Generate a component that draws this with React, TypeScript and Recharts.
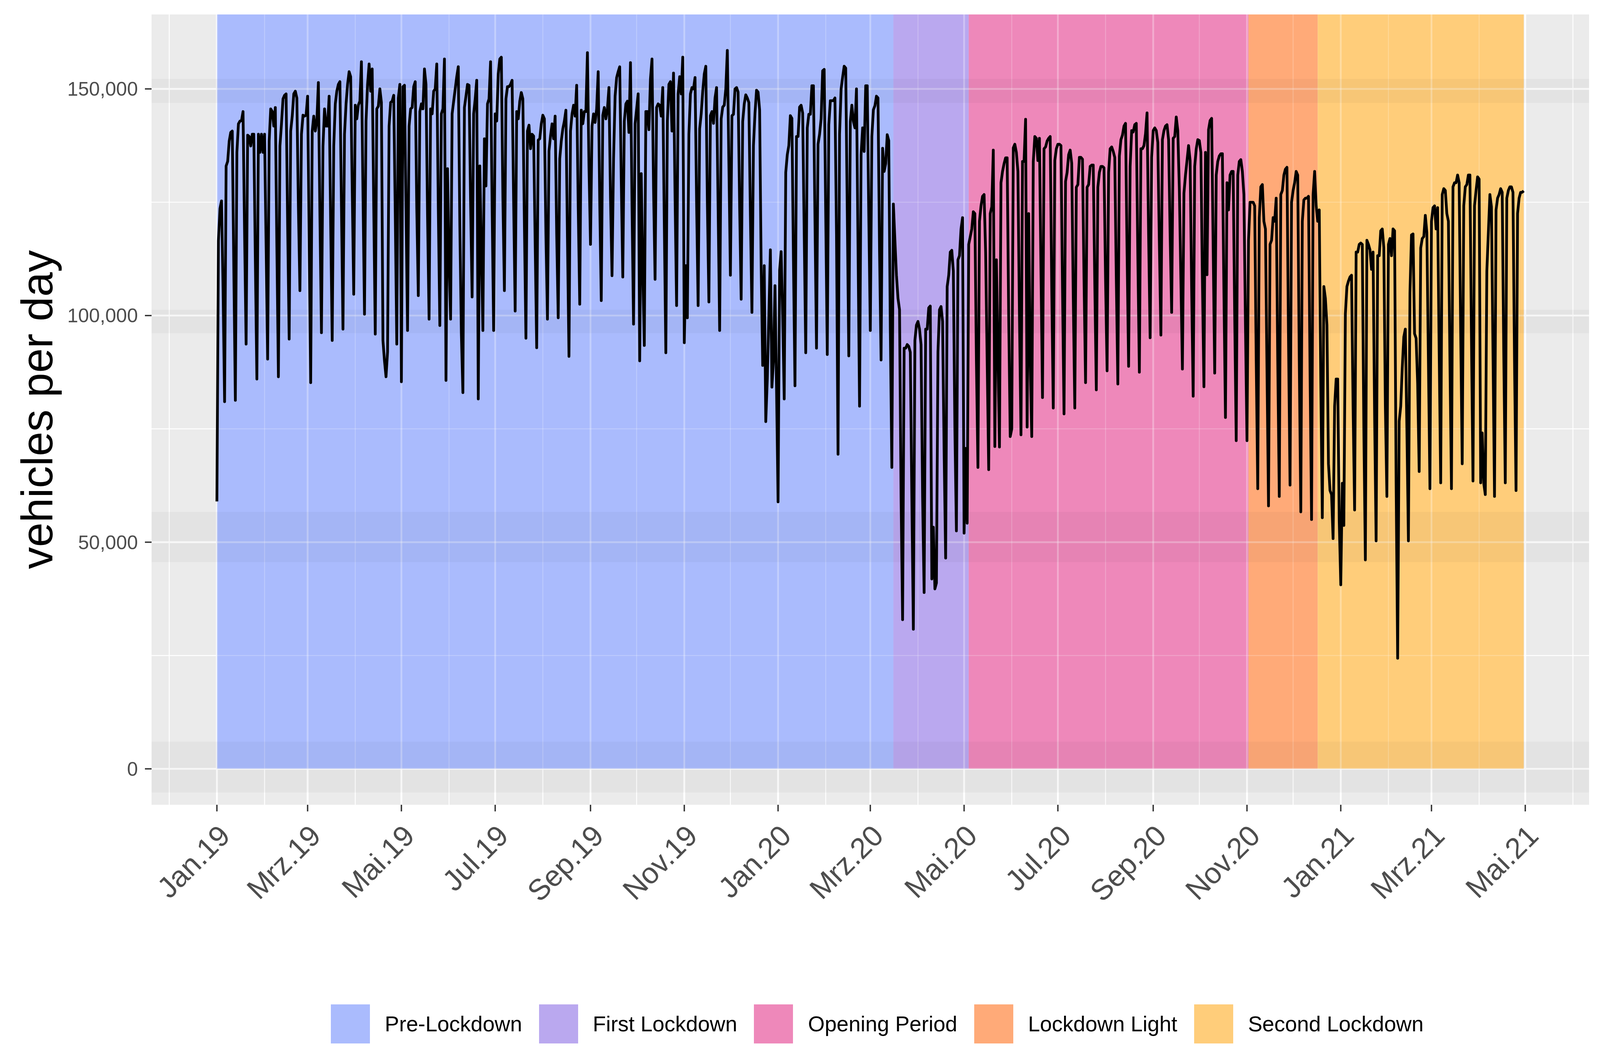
import React from "react";
import { LineChart, Line, XAxis, YAxis, CartesianGrid, ReferenceArea, ReferenceLine } from "recharts";

// daily counts in thousands of vehicles, one array per month (day 0 = 1 Jan 2019)
const jan19 = [59, 116.5, 123.6, 125.3, 106, 81, 133, 134, 138.5, 140.4, 140.7, 110, 81.3, 136, 142.3, 142.9, 143, 145, 118, 93.7, 139.8, 139.5, 137.4, 140, 140, 112, 86, 140, 136, 140, 136];
const feb19 = [140, 115, 90.4, 138.5, 145.6, 145, 141.8, 145.9, 115, 86.5, 137.4, 142.3, 147.8, 148.6, 148.9, 120, 94.8, 140.7, 144, 148.9, 149.5, 148, 124, 105.5, 140, 144.2, 144, 144.2];
const mar19 = [148.4, 117, 85.2, 140.7, 144, 140.7, 142.9, 151.4, 122, 96.2, 137.4, 145.6, 141.8, 141.8, 148.4, 120, 94.5, 137.4, 146.7, 149.5, 151, 151.6, 124, 97, 140, 146.7, 151, 153.8, 152.7, 128, 104.7];
const apr19 = [146.4, 143.4, 146.4, 147.3, 156, 127, 100.3, 142.9, 151, 155.5, 149.5, 154.4, 124, 95.9, 145.6, 146.2, 150, 147, 94.5, 90, 86.5, 92, 141.8, 147, 147.3, 148.6, 122.5, 93.7, 148, 151];
const may19 = [85.4, 150.5, 150.8, 123.6, 96.7, 141.8, 145.6, 145.9, 150.5, 151.6, 123.6, 104.4, 145, 146.7, 145.6, 154.4, 151, 122, 99.2, 145.6, 144.5, 149.5, 150, 155.5, 123.6, 97.8, 144.5, 145.6, 156.6, 85.7, 132.4];
const jun19 = [112, 99.2, 144.5, 147.3, 150, 152.7, 154.9, 120, 96, 83, 145.9, 148.4, 151, 150.8, 125, 104.1, 144.5, 147.8, 151.9, 81.6, 133, 115, 96.7, 139, 128.6, 146.7, 147.8, 156, 124, 96.7];
const jul19 = [144.5, 142.9, 153.3, 156.6, 157, 126, 105.5, 147.8, 150.5, 150.5, 151, 151.9, 125, 101, 145, 143.4, 147.3, 149.2, 147.8, 120, 95, 140.7, 142, 136.8, 140, 139.6, 116, 92.9, 138.7, 139, 142.3];
const aug19 = [144.2, 143.4, 118, 99.2, 136.3, 139.6, 142.3, 139, 144, 118, 99.5, 134.6, 138.5, 141.2, 142.9, 145.3, 117, 91, 140.7, 144.5, 146.4, 144, 150.8, 124, 102.5, 145.3, 142.3, 145, 145, 158, 133];
const sep19 = [115.7, 141.8, 144.5, 142.6, 145.6, 153.8, 125, 103.3, 144.2, 145.9, 143.4, 145.6, 150.3, 126, 108.8, 134.6, 148.4, 152.5, 153.8, 154.9, 130, 108.5, 142.9, 146.7, 147.3, 140.4, 155.8, 124, 98.1, 142.3];
const oct19 = [145.6, 148.9, 90, 131.3, 110, 93.4, 145, 145, 141, 152.2, 156.6, 128, 108, 145.9, 146.7, 146.4, 144, 150.3, 120, 91.8, 142.9, 151, 151.6, 140.7, 153.5, 126, 102.2, 148.9, 152.7, 148.9, 157];
const nov19 = [94, 111, 99.5, 140, 148.9, 150.3, 150, 152.5, 125, 102.2, 141.2, 144.5, 149.5, 153.3, 155, 125, 103, 144.1, 145, 142.4, 148, 150.3, 123.7, 96.7, 143.4, 146, 146.4, 150, 158.5, 133.6];
const dec19 = [108.9, 144.1, 144.4, 150, 150.3, 149.3, 124, 103.6, 142.8, 146.7, 148.7, 148, 147, 122, 100.7, 137.5, 144.7, 149.7, 149.3, 145.4, 111, 89, 111, 76.6, 86, 100, 114.5, 84.2, 90, 106.6, 84];
const jan20 = [58.9, 110, 114.1, 100, 81.6, 131.6, 135.5, 137.5, 144.1, 143.5, 112, 84.5, 139.5, 139.5, 146, 146.4, 144.7, 118, 91.8, 141.4, 144.4, 144.4, 150.7, 150.7, 121, 92.8, 137.8, 140, 143.4, 154, 154.3];
const feb20 = [122, 91.4, 142.1, 147.4, 147.4, 147.4, 148, 118, 69.4, 140, 150, 152.6, 155, 154.6, 123, 91.1, 142.8, 146.4, 142.8, 141.4, 150, 115, 80, 135.5, 141.4, 136.2, 150.7, 150.7, 122];
const mar20 = [96.7, 139.5, 145.4, 146.3, 148.4, 148, 114, 90.2, 136.9, 131.8, 133.5, 139.9, 138.6, 97, 66.5, 124.6, 116.6, 108.9, 103.8, 101.3, 60, 32.9, 92.8, 92.8, 93.6, 93.2, 91.9, 60, 30.8, 94.5, 97.9];
const apr20 = [98.7, 97, 93.6, 60, 38.9, 97, 97, 101.7, 102.1, 41.9, 53.3, 39.7, 41, 92, 101.3, 102, 98.7, 70, 46.5, 106.4, 108.9, 114, 114.4, 109.8, 75, 52.5, 112.3, 113.2, 119.1, 121.6];
const may20 = [52, 70.7, 54.2, 115.7, 117.4, 119.1, 122.9, 122.5, 90, 66.5, 120.8, 124.2, 126.3, 126.7, 114, 90, 66, 122.5, 124, 136.5, 71.1, 112.3, 92, 71, 129.3, 131.8, 133.5, 134.8, 134.8, 100, 73.3];
const jun20 = [75, 137, 137.8, 136, 131.8, 100, 73.7, 134, 134, 143.3, 75.4, 122.5, 90, 73.3, 134, 139.5, 139.1, 134.2, 139.1, 110, 81.9, 136.8, 137.2, 138.5, 139.1, 139.5, 106, 79.6, 134.2, 136.8];
const jul20 = [137.8, 137.8, 137.5, 106, 78.3, 129.6, 131.6, 135.5, 136.5, 133.6, 104, 79.6, 128.3, 128.9, 134.9, 134.9, 134.5, 108, 85.2, 128.3, 128.9, 132.9, 133.2, 133.2, 107, 83.6, 128.3, 131.6, 132.9, 132.9, 132.6];
const aug20 = [108, 87.8, 131.6, 136.8, 137.2, 136.2, 134.9, 108, 84.9, 135.2, 138.8, 139.8, 141.8, 142.4, 114, 88.8, 132.9, 140.8, 140.5, 142.1, 142.4, 113, 87.5, 136.8, 136.8, 137.5, 140.1, 144.7, 118, 95.1, 134.9];
const sep20 = [140.8, 141.4, 140.8, 138.2, 116, 95.7, 138.8, 140.8, 141.8, 142.1, 138.8, 118, 100.7, 139.1, 139.5, 143.8, 140.8, 128, 108, 88.2, 127, 131, 134.2, 137.5, 134.2, 106, 82.2, 132.9, 136.8, 138.8];
const oct20 = [138.6, 136, 108, 84.3, 136, 109, 141, 143, 143.5, 115, 87.3, 131, 134, 135.2, 135.7, 135.7, 105, 77.5, 129.3, 123.3, 131, 131.8, 131.8, 100, 72.4, 131, 134, 134.4, 131.8, 126.7, 98];
const nov20 = [72.4, 116.6, 125, 125, 125, 124.2, 90, 61.8, 121.6, 128.4, 128.9, 120.8, 119.1, 88, 58, 115.7, 116.6, 121.6, 120.8, 125.9, 90, 60.1, 126.7, 127.6, 131, 132.3, 132.7, 95, 62.6, 125];
const dec20 = [127.6, 129.3, 131.8, 131, 90, 56.7, 120.8, 125.5, 125.9, 125.9, 126.3, 88, 55, 126.7, 131.8, 124.2, 120.8, 123.3, 85, 55.4, 106.4, 103.8, 97.9, 67.3, 61.4, 60.5, 50.8, 80, 86, 86, 54.6];
const jan21 = [40.6, 63, 53.7, 100.4, 106.4, 107.6, 108.5, 108.9, 80, 57.1, 114, 114, 115.7, 116, 115.7, 75, 46.1, 116.6, 115.7, 114.5, 110.2, 114, 78, 50.3, 113.2, 113.2, 118.7, 119.1, 115, 80, 60.1];
const feb21 = [115.7, 117, 113.2, 119.1, 118.7, 63, 24.4, 76.7, 80, 88.5, 95.3, 97, 75, 50.3, 105, 117.8, 118, 96, 95, 85, 65.6, 114.9, 117, 117.4, 122.1, 118.3, 90, 61.8];
const mar21 = [120.8, 123.8, 124.2, 119.1, 123.8, 92, 63.1, 126.7, 128, 127.6, 122.5, 120.8, 90, 61.8, 128.4, 129.3, 129.3, 131, 129.3, 96, 67.3, 124.2, 128.4, 128.9, 131, 131, 95, 63.5, 124.2, 127.6, 130.6];
const apr21 = [130.1, 63.1, 74.1, 63, 60.5, 109.8, 118.3, 126.7, 124, 92, 60.1, 123.3, 125.9, 126.7, 128, 127.2, 92, 63.1, 125.9, 127.6, 128.4, 128.4, 127.2, 90, 61.4, 122.5, 125.9, 127.2, 127.2, 127.5];

const months = [jan19, feb19, mar19, apr19, may19, jun19, jul19, aug19, sep19, oct19, nov19, dec19,
  jan20, feb20, mar20, apr20, may20, jun20, jul20, aug20, sep20, oct20, nov20, dec20,
  jan21, feb21, mar21, apr21];

const data = months.flat().map((v, i) => ({ day: i, vehicles: Math.round(v * 1000) }));

// x axis: days since 1 Jan 2019 of month starts
const majorTickDays = [0, 59, 120, 181, 243, 304, 365, 425, 486, 547, 609, 670, 731, 790, 851];
const majorTickLabels = ["Jan.19", "Mrz.19", "Mai.19", "Jul.19", "Sep.19", "Nov.19", "Jan.20", "Mrz.20", "Mai.20", "Jul.20", "Sep.20", "Nov.20", "Jan.21", "Mrz.21", "Mai.21"];
const minorTickDays = [-31, 31, 90, 151, 212, 273, 334, 396, 456, 517, 578, 639, 700, 762, 821, 882];
const yMajorTicks = [0, 50000, 100000, 150000];
const yMinorTicks = [25000, 75000, 125000];

// lockdown periods (day index)
const periodNames = ["Pre-Lockdown", "First Lockdown", "Opening Period", "Lockdown Light", "Second Lockdown"];
const periodStart = [0, 440, 489, 671, 716];
const periodEnd = [440, 489, 671, 716, 850];
const periodFill = ["#AABBFD", "#BAA8EF", "#EE88BA", "#FFAA78", "#FFCD7A"];

const X_DOMAIN: [number, number] = [-42.5, 892.5];
const Y_DOMAIN: [number, number] = [-7925, 166425];
const FONT = '"Liberation Sans", Arial, Helvetica, sans-serif';

// faint horizontal banding seen in the source image
const bands: [number, number][] = [[146900, 152200], [96100, 101300], [45600, 56700], [-5200, 6000]];

const XTick = (props: any) => {
  const { x, y, payload } = props;
  const i = majorTickDays.indexOf(payload.value);
  const tx = x + 38;
  const ty = y + 67;
  return (
    <text x={tx} y={ty} textAnchor="end" transform={`rotate(-45 ${tx} ${ty})`}
      fontSize={75} fill="#4D4D4D" fontFamily={FONT}>
      {majorTickLabels[i]}
    </text>
  );
};

const YTitle = (props: any) => {
  const vb = props.viewBox || { x: 0, y: 37, width: 388, height: 2023 };
  const cx = vb.x + 95;
  const cy = vb.y + vb.height / 2;
  return (
    <text x={cx} y={cy} transform={`rotate(-90 ${cx} ${cy})`} textAnchor="middle"
      dominantBaseline="central" fontSize={113} fill="#000" fontFamily={FONT}>
      vehicles per day
    </text>
  );
};

export default function App() {
  return (
    <div style={{ position: "absolute", left: 0, top: 0, width: 4110, height: 2698, background: "#fff", fontFamily: FONT }}>
      <LineChart width={4110} height={2698} data={data} margin={{ top: 37, right: 42, left: 0, bottom: 0 }}>
        <CartesianGrid fill="#EBEBEB" horizontal={false} vertical={false} stroke="none" />
        <XAxis dataKey="day" type="number" domain={X_DOMAIN} allowDataOverflow ticks={majorTickDays}
          interval={0} height={638} axisLine={false} tickSize={17} tickMargin={0}
          tickLine={{ stroke: "#333333", strokeWidth: 3.5 }} tick={<XTick />} />
        <YAxis type="number" domain={Y_DOMAIN} allowDataOverflow ticks={yMajorTicks} interval={0}
          width={388} axisLine={false} tickSize={17} tickMargin={18}
          tickLine={{ stroke: "#333333", strokeWidth: 3.5 }}
          tick={{ fill: "#4D4D4D", fontSize: 50, fontFamily: FONT }}
          tickFormatter={(v: number) => v.toLocaleString("en-US")}
          label={{ content: <YTitle /> }} />

        {yMinorTicks.map((v) => (
          <ReferenceLine key={`hm${v}`} y={v} stroke="#FFFFFF" strokeWidth={2.4} zIndex={-60} />
        ))}
        {yMajorTicks.map((v) => (
          <ReferenceLine key={`hM${v}`} y={v} stroke="#FFFFFF" strokeWidth={4.6} zIndex={-60} />
        ))}
        {minorTickDays.map((d) => (
          <ReferenceLine key={`vm${d}`} x={d} stroke="#FFFFFF" strokeWidth={2.4} zIndex={-60} />
        ))}
        {majorTickDays.map((d) => (
          <ReferenceLine key={`vM${d}`} x={d} stroke="#FFFFFF" strokeWidth={4.6} zIndex={-60} />
        ))}

        {periodNames.map((name, i) => (
          <ReferenceArea key={name} x1={periodStart[i]} x2={periodEnd[i]} y1={0} y2={Y_DOMAIN[1]}
            fill={periodFill[i]} fillOpacity={1} stroke="none" zIndex={-40} />
        ))}

        {yMinorTicks.map((v) => (
          <ReferenceLine key={`fhm${v}`} y={v} stroke="#FFFFFF" strokeOpacity={0.22} strokeWidth={2.4} zIndex={-30} />
        ))}
        {yMajorTicks.map((v) => (
          <ReferenceLine key={`fhM${v}`} y={v} stroke="#FFFFFF" strokeOpacity={0.3} strokeWidth={4.6} zIndex={-30} />
        ))}
        {minorTickDays.map((d) => (
          <ReferenceLine key={`fvm${d}`} x={d} stroke="#FFFFFF" strokeOpacity={0.22} strokeWidth={2.4} zIndex={-30} />
        ))}
        {majorTickDays.map((d) => (
          <ReferenceLine key={`fvM${d}`} x={d} stroke="#FFFFFF" strokeOpacity={0.3} strokeWidth={4.6} zIndex={-30} />
        ))}

        {bands.map(([a, b]) => (
          <ReferenceArea key={`b${a}`} x1={X_DOMAIN[0]} x2={X_DOMAIN[1]} y1={a} y2={b}
            fill="#000" fillOpacity={0.03} stroke="none" zIndex={-20} />
        ))}

        <Line type="linear" dataKey="vehicles" stroke="#000" strokeWidth={7} dot={false}
          activeDot={false} isAnimationActive={false} strokeLinejoin="round" />
      </LineChart>

      <div style={{ position: "absolute", left: 847, top: 2571, height: 100, display: "flex", alignItems: "center" }}>
        {periodNames.map((name, i) => (
          <div key={name} style={{ display: "flex", alignItems: "center", marginRight: i < periodNames.length - 1 ? 43 : 0 }}>
            <div style={{ width: 100, height: 100, background: periodFill[i], marginRight: 38 }} />
            <span style={{ fontSize: 55, color: "#000", whiteSpace: "nowrap" }}>{name}</span>
          </div>
        ))}
      </div>
    </div>
  );
}
